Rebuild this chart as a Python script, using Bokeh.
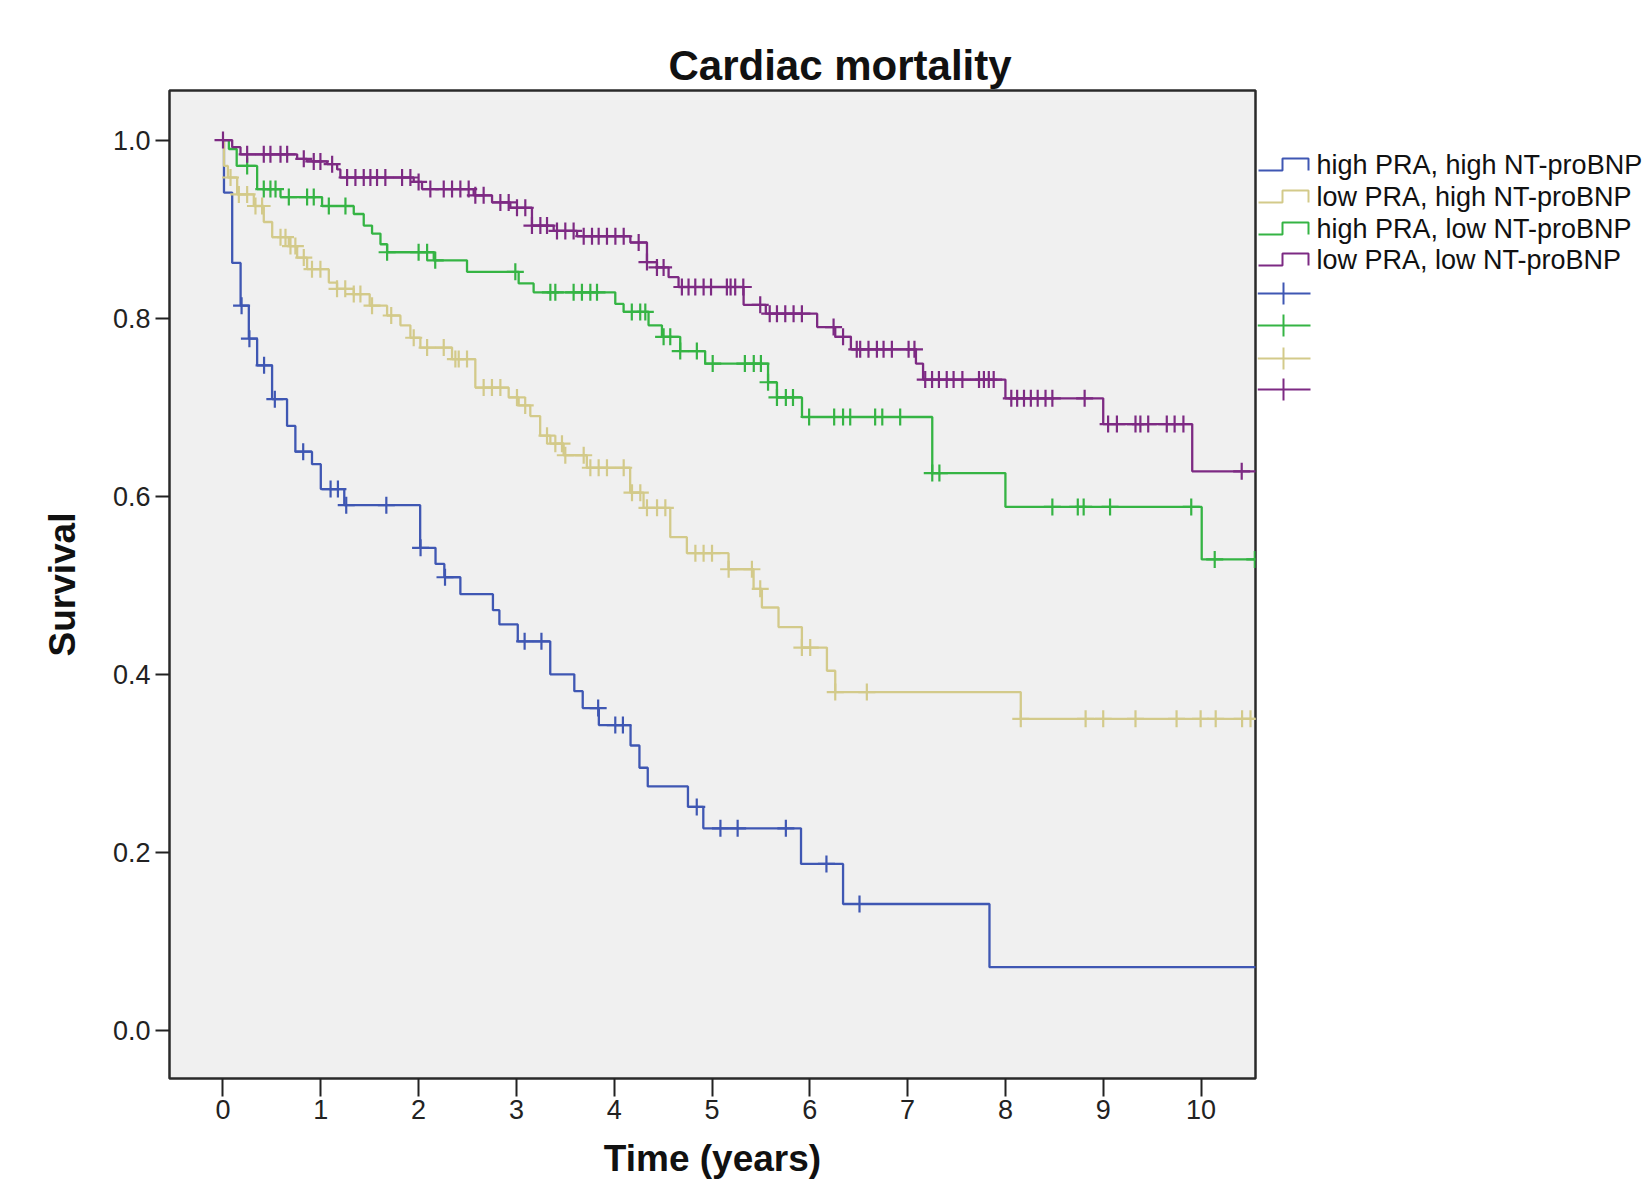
import numpy as np
from bokeh.plotting import figure
from bokeh.layouts import row
from bokeh.models import FixedTicker, PrintfTickFormatter, Range1d
from bokeh.embed import file_html
from bokeh.resources import INLINE
from bokeh.core.properties import value

# ---------------- data ----------------
groups = ["high PRA, high NT-proBNP", "low PRA, high NT-proBNP",
          "high PRA, low NT-proBNP", "low PRA, low NT-proBNP"]
colors = ["#3f57b3", "#d3ca8a", "#35b444", "#7d2a83"]

blue_t = [0, 0.01, 0.094, 0.18, 0.264, 0.349, 0.502, 0.655, 0.74, 0.91, 1.0, 1.24, 2.016, 2.173,
          2.263, 2.427, 2.76, 2.826, 3.014, 3.346, 3.592, 3.678, 3.843, 4.167, 4.258, 4.343, 4.754,
          4.911, 5.91, 6.34, 7.837, 10.6]
blue_s = [1.0, 0.941, 0.862, 0.814, 0.777, 0.747, 0.709, 0.679, 0.650, 0.636, 0.608, 0.590, 0.542,
          0.524, 0.509, 0.490, 0.472, 0.456, 0.437, 0.400, 0.381, 0.362, 0.343, 0.320, 0.295, 0.274,
          0.251, 0.227, 0.187, 0.142, 0.071, 0.071]
blue_c = [0.19, 0.27, 0.42, 0.53, 0.82, 1.10, 1.175, 1.26, 1.67, 2.02, 2.27, 3.084, 3.256, 3.836,
          4.011, 4.089, 4.844, 5.086, 5.262, 5.755, 6.17, 6.508]

yellow_t = [0, 0.01, 0.05, 0.145, 0.315, 0.417, 0.503, 0.673, 0.758, 0.86, 1.082, 1.166, 1.337, 1.5,
            1.678, 1.814, 1.916, 2.018, 2.342, 2.58, 2.921, 3.023, 3.142, 3.243, 3.347, 3.483, 3.72,
            4.163, 4.30, 4.573, 4.743, 5.169, 5.425, 5.51, 5.68, 5.919, 6.175, 6.26, 8.157, 10.6]
yellow_s = [1.0, 0.971, 0.958, 0.939, 0.926, 0.908, 0.891, 0.881, 0.868, 0.855, 0.840, 0.833, 0.827,
            0.814, 0.803, 0.792, 0.778, 0.767, 0.754, 0.722, 0.711, 0.702, 0.690, 0.668, 0.659, 0.646,
            0.632, 0.604, 0.587, 0.554, 0.536, 0.518, 0.496, 0.475, 0.453, 0.430, 0.404, 0.380, 0.350,
            0.350]
yellow_c = [0.077, 0.162, 0.247, 0.332, 0.40, 0.588, 0.639, 0.69, 0.74, 0.826, 0.91, 0.996, 1.166,
            1.25, 1.337, 1.405, 1.524, 1.72, 1.95, 2.087, 2.257, 2.376, 2.41, 2.495, 2.665, 2.75,
            2.836, 3.006, 3.09, 3.313, 3.398, 3.466, 3.5, 3.688, 3.756, 3.841, 3.926, 4.097, 4.182,
            4.267, 4.335, 4.438, 4.523, 4.83, 4.914, 5.0, 5.17, 5.408, 5.493, 5.919, 6.004, 6.26,
            6.583, 8.157, 8.82, 9.0, 9.33, 9.75, 9.996, 10.15, 10.42, 10.506]

green_t = [0, 0.06, 0.14, 0.349, 0.588, 1.013, 1.337, 1.439, 1.524, 1.61, 1.678, 2.155, 2.495, 3.023,
           3.176, 4.011, 4.096, 4.351, 4.488, 4.675, 4.93, 5.573, 5.664, 5.92, 7.252, 8.0, 10.007, 10.6]
green_s = [1.0, 0.99, 0.971, 0.945, 0.936, 0.926, 0.917, 0.904, 0.895, 0.883, 0.874, 0.865, 0.852,
           0.839, 0.829, 0.816, 0.807, 0.792, 0.779, 0.763, 0.749, 0.728, 0.711, 0.689, 0.626, 0.588,
           0.529, 0.529]
green_c = [0.247, 0.417, 0.485, 0.537, 0.673, 0.86, 0.928, 1.082, 1.252, 1.678, 2.0, 2.087, 2.17,
           2.989, 3.347, 3.398, 3.585, 3.67, 3.756, 3.824, 4.18, 4.266, 4.318, 4.505, 4.573, 4.675,
           4.845, 5.007, 5.336, 5.427, 5.5, 5.573, 5.664, 5.755, 5.828, 5.993, 6.249, 6.34, 6.413,
           6.668, 6.741, 6.924, 7.252, 7.325, 8.48, 8.74, 8.80, 9.07, 9.90, 10.14, 10.55]

purple_t = [0, 0.094, 0.179, 0.758, 0.86, 1.065, 1.167, 1.2, 1.95, 2.035, 2.563, 2.751, 2.938, 3.159,
            3.381, 3.62, 4.165, 4.335, 4.437, 4.556, 4.658, 5.323, 5.55, 6.075, 6.26, 6.42, 7.085,
            7.158, 8.0, 9.0, 9.91, 10.6]
purple_s = [1.0, 0.992, 0.984, 0.979, 0.976, 0.973, 0.967, 0.958, 0.953, 0.945, 0.938, 0.930, 0.924,
            0.904, 0.898, 0.892, 0.885, 0.863, 0.857, 0.846, 0.835, 0.815, 0.805, 0.790, 0.779, 0.765,
            0.749, 0.731, 0.710, 0.681, 0.628, 0.628]
purple_c = [0.0, 0.247, 0.417, 0.485, 0.588, 0.656, 0.826, 0.928, 0.996, 1.116, 1.269, 1.354, 1.439,
            1.507, 1.575, 1.66, 1.831, 1.916, 2.0, 2.12, 2.257, 2.342, 2.427, 2.512, 2.58, 2.665,
            2.836, 2.921, 3.006, 3.091, 3.159, 3.245, 3.313, 3.415, 3.5, 3.585, 3.688, 3.773, 3.841,
            3.926, 4.012, 4.097, 4.25, 4.335, 4.437, 4.505, 4.692, 4.76, 4.829, 4.914, 4.99, 5.152,
            5.19, 5.237, 5.32, 5.493, 5.59, 5.664, 5.749, 5.834, 5.919, 6.243, 6.34, 6.48, 6.515, 6.6,
            6.686, 6.754, 6.839, 7.01, 7.07, 7.18, 7.25, 7.32, 7.40, 7.47, 7.56, 7.73, 7.78, 7.83,
            7.88, 8.06, 8.12, 8.19, 8.26, 8.33, 8.41, 8.48, 8.81, 9.05, 9.14, 9.33, 9.38, 9.46, 9.65,
            9.73, 9.82, 10.416]

x_ticks = list(range(0, 11))
y_ticks = [0.0, 0.2, 0.4, 0.6, 0.8, 1.0]

series = [(blue_t, blue_s, blue_c), (yellow_t, yellow_s, yellow_c),
          (green_t, green_s, green_c), (purple_t, purple_s, purple_c)]

FONT = "Liberation Sans"
H = 1185
FR_TOP, FR_BOT = 90, 1078

# ---------------- main plot ----------------
p = figure(width=1257, height=H, x_range=Range1d(-0.547, 10.557), y_range=Range1d(-0.054, 1.0557),
           output_backend="svg", toolbar_location=None,
           min_border_left=169, min_border_right=2, min_border_top=FR_TOP,
           min_border_bottom=H - FR_BOT)
p.background_fill_color = "#f0f0f0"
p.border_fill_color = "white"
p.outline_line_color = "#2a2a2a"
p.outline_line_width = 2.5
p.grid.visible = False

p.title.text = "Cardiac mortality"
p.title.text_font = FONT
p.title.text_font_size = "42px"
p.title.text_font_style = "bold"
p.title.text_color = "#111111"
p.title.align = "left"
p.title.offset = 499
p.title.standoff = 4

for ax in (p.xaxis, p.yaxis):
    ax.axis_line_color = None
    ax.major_tick_in = 0
    ax.minor_tick_line_color = None
    ax.major_tick_line_width = 2
    ax.major_tick_line_color = "#222222"
    ax.major_label_text_font = FONT
    ax.major_label_text_font_size = "27px"
    ax.major_label_text_color = "#222222"
    ax.axis_label_text_font = FONT
    ax.axis_label_text_font_style = "bold"
    ax.axis_label_text_color = "#111111"

p.xaxis.ticker = FixedTicker(ticks=x_ticks)
p.xaxis.major_tick_out = 18
p.xaxis.major_label_standoff = 3
p.xaxis.axis_label = "Time (years)"
p.xaxis.axis_label_text_font_size = "37px"
p.xaxis.axis_label_standoff = 16

p.yaxis.ticker = FixedTicker(ticks=y_ticks)
p.yaxis.formatter = PrintfTickFormatter(format="%.1f")
p.yaxis.major_tick_out = 14
p.yaxis.major_label_standoff = 5
p.yaxis.axis_label = "Survival"
p.yaxis.axis_label_text_font_size = "37px"
p.yaxis.axis_label_standoff = 27

for (t, s, c), col in zip(series, colors):
    t = np.array(t)
    s = np.array(s)
    c = np.array(c)
    p.step(t, s, mode="after", line_color=col, line_width=2.3)
    idx = np.searchsorted(t, c, side="right") - 1
    p.scatter(c, s[idx], marker="cross", size=17, line_color=col, line_width=2.2)

# ---------------- legend panel (coordinates = page pixels) ----------------
LW = 1646 - 1257
lg = figure(width=LW, height=H, x_range=Range1d(1257, 1646), y_range=Range1d(FR_BOT, FR_TOP),
            output_backend="svg", toolbar_location=None,
            x_axis_location=None, y_axis_location=None,
            min_border_left=0, min_border_right=0, min_border_top=FR_TOP,
            min_border_bottom=H - FR_BOT)
lg.grid.visible = False
lg.outline_line_color = None
lg.background_fill_color = "white"
lg.border_fill_color = "white"

step_upper = [158, 190, 222, 253]
row_h = 12
for i, col in enumerate(colors):
    u = step_upper[i]
    lg.line([1258, 1282, 1282, 1308, 1308], [u + row_h, u + row_h, u, u, u + row_h],
            line_color=col, line_width=2)
lg.text(x=[1316] * 4, y=[u + row_h / 2 for u in step_upper], text=groups,
        text_font=value(FONT), text_font_size=value("27px"), text_color="#111111",
        text_baseline="middle", text_align="left")

marker_rows = [293, 325, 358, 389]
marker_colors = [colors[0], colors[2], colors[1], colors[3]]
for yv, col in zip(marker_rows, marker_colors):
    lg.line([1257, 1310], [yv, yv], line_color=col, line_width=2)
    lg.segment(x0=[1283], y0=[yv - 11], x1=[1283], y1=[yv + 11], line_color=col, line_width=2)

layout = row(p, lg)
open("out.html", "w").write(file_html(layout, INLINE))
